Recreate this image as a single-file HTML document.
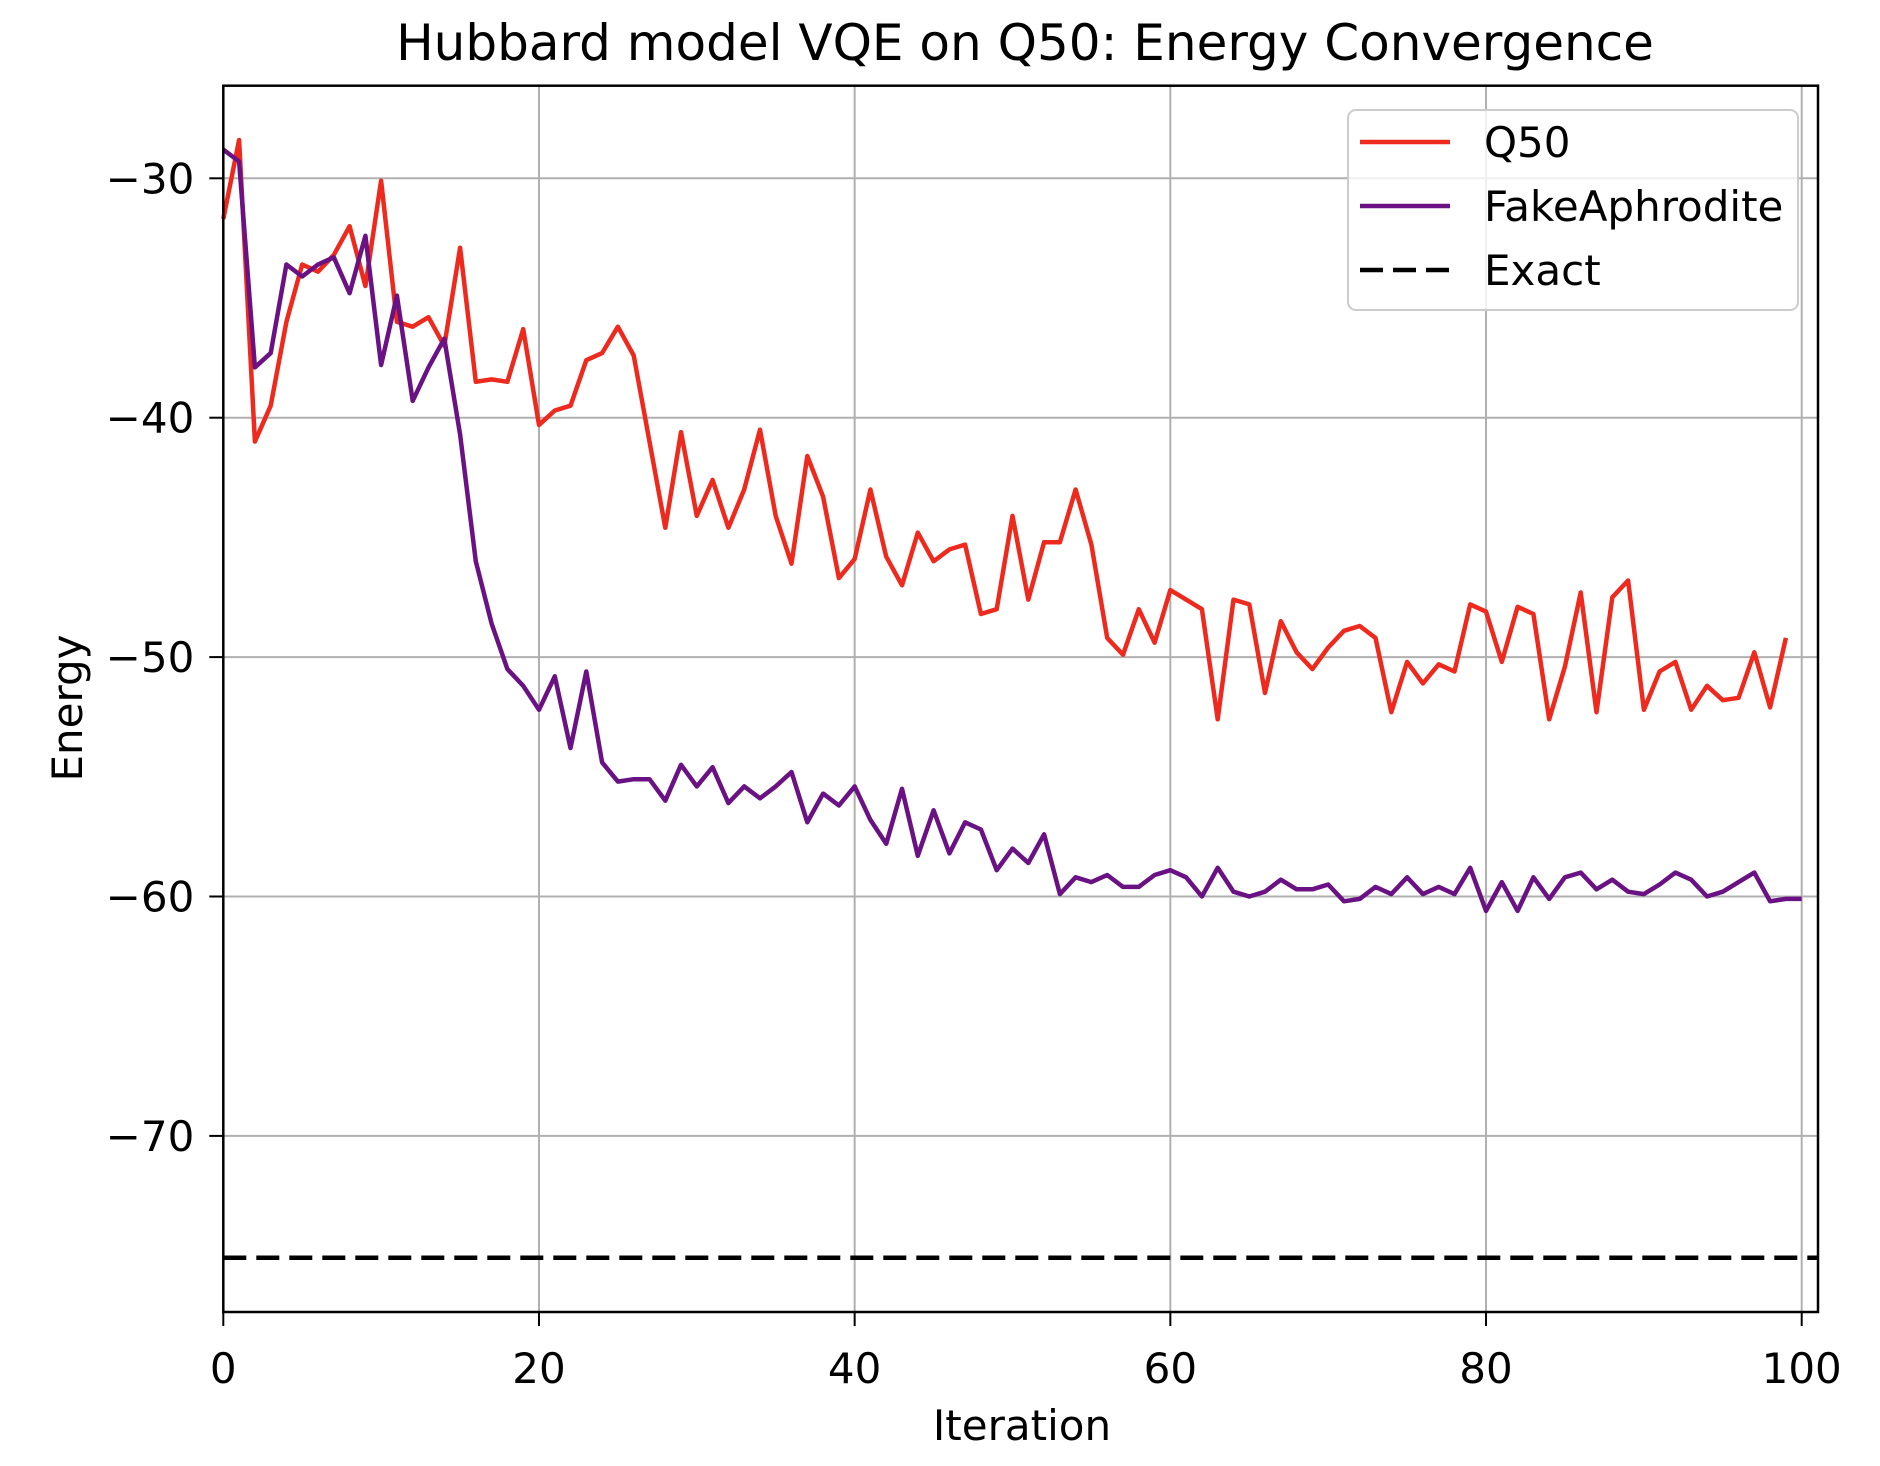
<!DOCTYPE html>
<html><head><meta charset="utf-8"><style>
html,body{margin:0;padding:0;background:#fff;}
svg{display:block;font-family:"DejaVu Sans","Liberation Sans",sans-serif;}
</style></head><body>
<svg id="chart" width="1880" height="1466" viewBox="0 0 1880 1466">
<g id="grid"></g>
<g id="series"></g>
<g id="axes"></g>
<text x="1025" y="60" font-size="50" text-anchor="middle">Hubbard model VQE on Q50: Energy Convergence</text>
<text x="1022" y="1440" font-size="42" text-anchor="middle">Iteration</text>
<text transform="translate(82,708) rotate(-90)" font-size="42" text-anchor="middle">Energy</text>
<g>
<rect x="1348" y="110" width="450" height="200" rx="8" fill="#fff" fill-opacity="0.8" stroke="#ccc" stroke-width="2"/>
<line x1="1360" y1="142" x2="1450" y2="142" stroke="#ee2a1e" stroke-width="4.5"/>
<text x="1484" y="157" font-size="42">Q50</text>
<line x1="1360" y1="206" x2="1450" y2="206" stroke="#6a1283" stroke-width="4.5"/>
<text x="1484" y="221" font-size="42">FakeAphrodite</text>
<line x1="1360" y1="270" x2="1450" y2="270" stroke="#000" stroke-width="4.5" stroke-dasharray="23 10"/>
<text x="1484" y="285" font-size="42">Exact</text>
</g>
</svg>
<script>
const q50 = [-31.7,-28.4,-41.0,-39.5,-36.0,-33.6,-33.9,-33.2,-32.0,-34.5,-30.1,-36.0,-36.2,-35.8,-37.0,-32.9,-38.5,-38.4,-38.5,-36.3,-40.3,-39.7,-39.5,-37.6,-37.3,-36.2,-37.4,-41.0,-44.6,-40.6,-44.1,-42.6,-44.6,-43.0,-40.5,-44.1,-46.1,-41.6,-43.3,-46.7,-45.9,-43.0,-45.8,-47.0,-44.8,-46.0,-45.5,-45.3,-48.2,-48.0,-44.1,-47.6,-45.2,-45.2,-43.0,-45.3,-49.2,-49.9,-48.0,-49.4,-47.2,-47.6,-48.0,-52.6,-47.6,-47.8,-51.5,-48.5,-49.8,-50.5,-49.6,-48.9,-48.7,-49.2,-52.3,-50.2,-51.1,-50.3,-50.6,-47.8,-48.1,-50.2,-47.9,-48.2,-52.6,-50.4,-47.3,-52.3,-47.5,-46.8,-52.2,-50.6,-50.2,-52.2,-51.2,-51.8,-51.7,-49.8,-52.1,-49.2];
const fake = [-28.8,-29.3,-37.9,-37.3,-33.6,-34.1,-33.6,-33.3,-34.8,-32.4,-37.8,-34.9,-39.3,-37.9,-36.7,-40.7,-46.0,-48.6,-50.5,-51.2,-52.2,-50.8,-53.8,-50.6,-54.4,-55.2,-55.1,-55.1,-56.0,-54.5,-55.4,-54.6,-56.1,-55.4,-55.9,-55.4,-54.8,-56.9,-55.7,-56.2,-55.4,-56.8,-57.8,-55.5,-58.3,-56.4,-58.2,-56.9,-57.2,-58.9,-58.0,-58.6,-57.4,-59.9,-59.2,-59.4,-59.1,-59.6,-59.6,-59.1,-58.9,-59.2,-60.0,-58.8,-59.8,-60.0,-59.8,-59.3,-59.7,-59.7,-59.5,-60.2,-60.1,-59.6,-59.9,-59.2,-59.9,-59.6,-59.9,-58.8,-60.6,-59.4,-60.6,-59.2,-60.1,-59.2,-59.0,-59.7,-59.3,-59.8,-59.9,-59.5,-59.0,-59.3,-60.0,-59.8,-59.4,-59.0,-60.2,-60.1,-60.1];
const exactEnergy = -75.09;
const xTicks = [0,20,40,60,80,100];
const yTicks = [-30,-40,-50,-60,-70];
const yTickLabels = ["\u221230","\u221240","\u221250","\u221260","\u221270"];

const NS = "http://www.w3.org/2000/svg";
const L = 223.3, R = 1818, T = 85.7, B = 1312;
const xMin = 0, x0px = 223.3, xScale = (1801.7 - 223.3) / 100;
const yRef = -30, yRefPx = 178.3, yScale = (417.7 - 178.3) / 10;
function X(v){ return x0px + (v - xMin) * xScale; }
function Y(v){ return yRefPx + (yRef - v) * yScale; }
function mk(tag, attrs, parent){ const e = document.createElementNS(NS, tag); for (const k in attrs) e.setAttribute(k, attrs[k]); parent.appendChild(e); return e; }

const grid = document.getElementById('grid');
const axes = document.getElementById('axes');
const series = document.getElementById('series');

xTicks.forEach(t => {
  const g = mk('line', {x1: X(t), x2: X(t), y1: T, y2: B, stroke: '#b0b0b0', 'stroke-width': 2}, grid);
  
  
  const tk = mk('line', {x1: X(t), x2: X(t), y1: B, y2: B + 14, stroke: '#000', 'stroke-width': 2}, axes);
  
  
  const lb = mk('text', {x: X(t), y: 1383, 'font-size': 42, 'text-anchor': 'middle'}, axes);
  lb.textContent = String(t);
  
  
});
yTicks.forEach((t, i) => {
  const g = mk('line', {x1: L, x2: R, y1: Y(t), y2: Y(t), stroke: '#b0b0b0', 'stroke-width': 2}, grid);
  
  
  const tk = mk('line', {x1: L - 14, x2: L, y1: Y(t), y2: Y(t), stroke: '#000', 'stroke-width': 2}, axes);
  
  
  const lb = mk('text', {x: L - 29, y: Y(t) + 15, 'font-size': 42, 'text-anchor': 'end'}, axes);
  lb.textContent = yTickLabels[i];
  
  
});
const frame = mk('rect', {x: L, y: T, width: R - L, height: B - T, fill: 'none', stroke: '#000', 'stroke-width': 2.5}, axes);



function pts(arr){ return arr.map((v, i) => X(i).toFixed(1) + ',' + Y(v).toFixed(1)).join(' '); }
const exact = mk('line', {x1: L, x2: R, y1: Y(exactEnergy), y2: Y(exactEnergy), stroke: '#000', 'stroke-width': 4.5, 'stroke-dasharray': '23 10'}, series);


const pr = mk('polyline', {points: pts(q50), fill: 'none', stroke: '#ee2a1e', 'stroke-width': 4.5, 'stroke-linejoin': 'round'}, series);


const pp = mk('polyline', {points: pts(fake), fill: 'none', stroke: '#6a1283', 'stroke-width': 4.5, 'stroke-linejoin': 'round'}, series);


</script>
</body></html>
